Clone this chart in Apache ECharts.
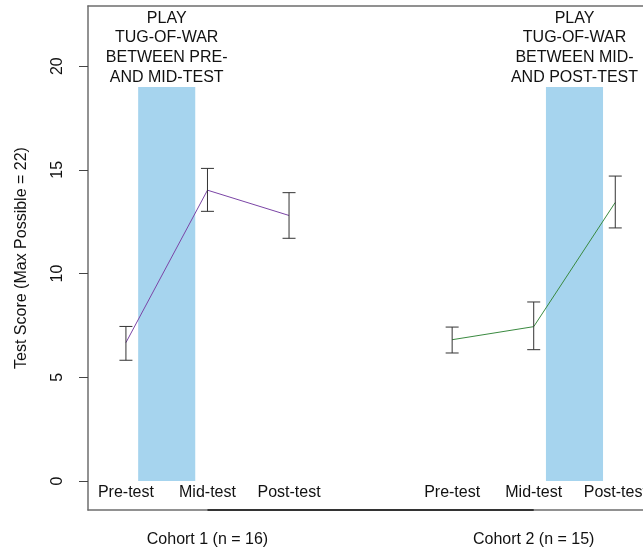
<!DOCTYPE html>
<html>
<head>
<meta charset="utf-8">
<script src="https://cdn.jsdelivr.net/npm/echarts@6/dist/echarts.min.js"></script>
<style>html,body{margin:0;padding:0;background:#fff;}#main{width:643px;height:552px;}</style>
</head>
<body>
<div id="main"></div>
<script>
// ---- data ----
const xTickPos = [1, 2, 3, 5, 6, 7];
const xTickLabels = ['Pre-test', 'Mid-test', 'Post-test', 'Pre-test', 'Mid-test', 'Post-test'];
const cohortPos = [2, 6];
const cohortLabels = ['Cohort 1 (n = 16)', 'Cohort 2 (n = 15)'];
const yTicks = [0, 5, 10, 15, 20];

const cohort1X = [1, 2, 3];
const cohort1Mean = [6.67, 14.02, 12.8];
const cohort1Low = [5.82, 13.0, 11.7];
const cohort1High = [7.45, 15.07, 13.9];

const cohort2X = [5, 6, 7];
const cohort2Mean = [6.81, 7.44, 13.43];
const cohort2Low = [6.17, 6.33, 12.2];
const cohort2High = [7.42, 8.63, 14.7];

const shadeFrom = [1.15, 6.15];
const shadeTo = [1.85, 6.85];
const shadeBottom = 0;
const shadeTop = 19;

const noteX = [1.5, 6.5];
const noteY = [20.88, 20.88];
const noteText = [
  'PLAY\nTUG-OF-WAR\nBETWEEN PRE-\nAND MID-TEST',
  'PLAY\nTUG-OF-WAR\nBETWEEN MID-\nAND POST-TEST'
];

const yMin = -1.4, yMax = 22.9, xMin = 0.535, xMax = 7.34;

// ---- chart ----
const FONT = 'Liberation Sans, Arial, sans-serif';
const FS = 16;
const TXT = '#111';
const chart = echarts.init(document.getElementById('main'), null, {renderer: 'canvas'});

const labelMap = {};
xTickPos.forEach((p, i) => labelMap[p] = xTickLabels[i]);
const cohortMap = {};
cohortPos.forEach((p, i) => cohortMap[p] = cohortLabels[i]);

const shadeData = shadeFrom.map((f, i) => [f, shadeTo[i], shadeBottom, shadeTop]);
const err1 = cohort1X.map((x, i) => [x, cohort1Low[i], cohort1High[i]]);
const err2 = cohort2X.map((x, i) => [x, cohort2Low[i], cohort2High[i]]);

function errRender(params, api) {
  const x = api.value(0);
  const lo = api.coord([x, api.value(1)]);
  const hi = api.coord([x, api.value(2)]);
  const w = 6.5;
  const st = {stroke: '#333', lineWidth: 1};
  return {
    type: 'group',
    children: [
      {type: 'line', shape: {x1: lo[0], y1: lo[1], x2: hi[0], y2: hi[1]}, style: st},
      {type: 'line', shape: {x1: lo[0] - w, y1: lo[1], x2: lo[0] + w, y2: lo[1]}, style: st},
      {type: 'line', shape: {x1: hi[0] - w, y1: hi[1], x2: hi[0] + w, y2: hi[1]}, style: st}
    ]
  };
}

const boxLine = {show: true, onZero: false, lineStyle: {color: '#6e6e6e', width: 1.5}};

const option = {
  animation: false,
  backgroundColor: '#fff',
  textStyle: {fontFamily: FONT},
  grid: {left: 88, top: 6, bottom: 42, right: 0, show: false, outerBoundsMode: 'none', containLabel: false},
  xAxis: [
    {
      type: 'value', min: xMin, max: xMax, position: 'bottom',
      axisLine: boxLine,
      axisTick: {show: false},
      splitLine: {show: false},
      axisLabel: {
        customValues: xTickPos,
        formatter: v => labelMap[v] || '',
        margin: -25,
        fontSize: FS, color: TXT, fontFamily: FONT
      }
    },
    {
      type: 'value', min: xMin, max: xMax, position: 'bottom',
      axisLine: {show: false},
      axisTick: {show: false},
      splitLine: {show: false},
      axisLabel: {
        customValues: cohortPos,
        formatter: v => cohortMap[v] || '',
        margin: 22,
        fontSize: FS, color: TXT, fontFamily: FONT
      }
    },
    {
      type: 'value', min: xMin, max: xMax, position: 'top',
      axisLine: boxLine,
      axisTick: {show: false},
      splitLine: {show: false},
      axisLabel: {show: false}
    }
  ],
  yAxis: {
    type: 'value', min: yMin, max: yMax,
    name: 'Test Score (Max Possible = 22)',
    nameLocation: 'middle', nameGap: 58,
    nameTextStyle: {fontSize: FS, color: TXT, fontFamily: FONT},
    axisLine: boxLine,
    axisTick: {show: true, customValues: yTicks, length: 9, lineStyle: {color: '#444', width: 1}},
    splitLine: {show: false},
    axisLabel: {
      customValues: yTicks, rotate: 90, margin: 22,
      fontSize: FS, color: TXT, fontFamily: FONT
    }
  },
  series: [
    {
      type: 'custom', xAxisIndex: 0, data: shadeData, z: 1, silent: true,
      renderItem: (params, api) => {
        const p1 = api.coord([api.value(0), api.value(3)]);
        const p2 = api.coord([api.value(1), api.value(2)]);
        return {type: 'rect', shape: {x: p1[0], y: p1[1], width: p2[0] - p1[0], height: p2[1] - p1[1]},
          style: {fill: '#a6d4ee'}};
      }
    },
    {
      type: 'line', xAxisIndex: 0, z: 3,
      data: cohort1X.map((x, i) => [x, cohort1Mean[i]]),
      showSymbol: false, lineStyle: {color: '#7b45a6', width: 1}
    },
    {
      type: 'line', xAxisIndex: 0, z: 3,
      data: cohort2X.map((x, i) => [x, cohort2Mean[i]]),
      showSymbol: false, lineStyle: {color: '#3a8a40', width: 1}
    },
    {type: 'custom', xAxisIndex: 0, data: err1, z: 4, renderItem: errRender},
    {type: 'custom', xAxisIndex: 0, data: err2, z: 4, renderItem: errRender},
    {
      type: 'line', xAxisIndex: 0, z: 5, silent: true,
      data: [[cohortPos[0], yMin], [cohortPos[1], yMin]],
      showSymbol: false, lineStyle: {color: '#333', width: 1.8}
    },
    {
      type: 'scatter', xAxisIndex: 0, z: 6, symbolSize: 0, silent: true,
      itemStyle: {opacity: 1},
      data: noteX.map((x, i) => ({value: [x, noteY[i]], text: noteText[i]})),
      label: {
        show: true, position: [0, 0], align: 'center', verticalAlign: 'middle',
        formatter: p => p.data.text, opacity: 1,
        fontSize: FS, lineHeight: 19.7, color: TXT, fontFamily: FONT
      }
    }
  ]
};
chart.setOption(option);
</script>
</body>
</html>
